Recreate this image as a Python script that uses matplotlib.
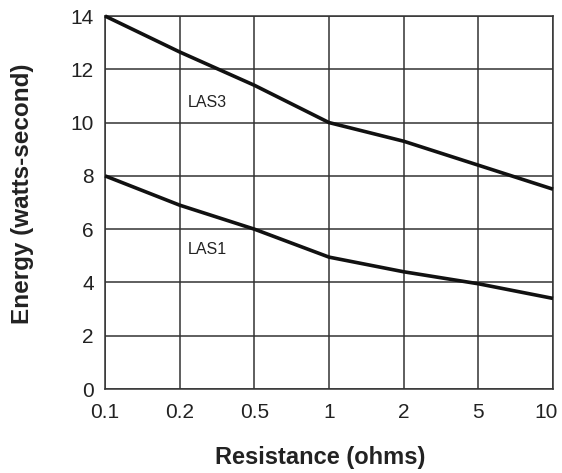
import numpy as np
import matplotlib.pyplot as plt
import matplotlib.transforms as mtransforms

plt.rcParams['font.family'] = ['Liberation Sans', 'DejaVu Sans']

resistance = ['0.1', '0.2', '0.5', '1', '2', '5', '10']
las3 = [14.0, 12.65, 11.4, 10.0, 9.3, 8.4, 7.5]
las1 = [8.0, 6.9, 6.0, 4.95, 4.4, 3.95, 3.4]
y_ticks = [0, 2, 4, 6, 8, 10, 12, 14]

fig = plt.figure(figsize=(5.62, 4.73), dpi=100)
ax = fig.add_axes([105 / 562, 1 - 389 / 473, 448 / 562, 373 / 473])

x = np.arange(len(resistance))
ax.plot(x, las3, color='#111111', lw=2.6, clip_on=False, solid_capstyle='butt', zorder=3)
ax.plot(x, las1, color='#111111', lw=2.6, clip_on=False, solid_capstyle='butt', zorder=3)

ax.text(1.11, 10.75, 'LAS3', fontsize=11.5, va='center', ha='left', color='#222222')
ax.text(1.11, 5.22, 'LAS1', fontsize=11.5, va='center', ha='left', color='#222222')

ax.set_xlim(0, len(resistance) - 1)
ax.set_ylim(0, 14)
ax.set_xticks(x)
ax.set_xticklabels(resistance)
ax.set_yticks(y_ticks)
ax.tick_params(length=0, labelsize=15, colors='#222222')
ax.tick_params(axis='x', pad=10)
ax.tick_params(axis='y', pad=8)
ax.grid(True, color='#333333', lw=1.1)
ax.set_axisbelow(True)
for s in ax.spines.values():
    s.set_color('#333333')
    s.set_linewidth(1.1)

# last label sits a bit left of its gridline so it stays inside the figure
last = ax.get_xticklabels()[-1]
last.set_transform(last.get_transform() + mtransforms.ScaledTranslation(-7 / 100, 0, fig.dpi_scale_trans))

ax.set_xlabel('Resistance (ohms)', fontsize=17, fontweight='bold', color='#222222', va='top')
ax.xaxis.set_label_coords(0.48, -0.153)
ax.set_ylabel('Energy (watts-second)', fontsize=17.5, fontweight='bold', color='#222222')
ax.yaxis.set_label_coords(-0.158, 0.523)

fig.savefig('out.png', dpi=100)
